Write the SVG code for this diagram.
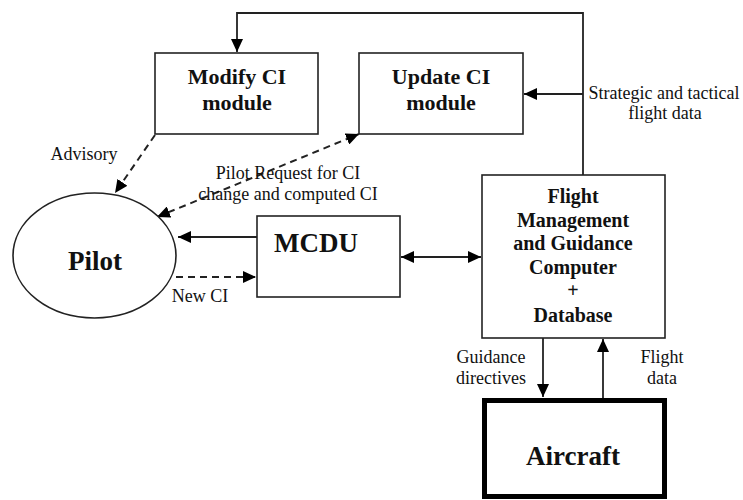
<svg xmlns="http://www.w3.org/2000/svg" width="743" height="500" viewBox="0 0 743 500">
<style>
.box{fill:#fff;stroke:#222;stroke-width:1.6}
.thick{fill:#fff;stroke:#000;stroke-width:5}
.t{font-family:"Liberation Serif","Times New Roman",serif;font-weight:bold;fill:#111;text-anchor:middle}
.l{font-family:"Liberation Serif","Times New Roman",serif;font-size:18px;fill:#111;text-anchor:middle}
.ln{fill:none;stroke:#222;stroke-width:1.8}
.d{fill:none;stroke:#222;stroke-width:2;stroke-dasharray:7,5}
</style>
<defs>
<marker id="a" markerUnits="userSpaceOnUse" markerWidth="14" markerHeight="12" refX="13" refY="6" orient="auto-start-reverse" viewBox="0 0 14 12">
<path d="M0,0 L13,6 L0,12 z" fill="#000"/>
</marker>
</defs>
<g id="connectors">
<path class="ln" d="M583,175 V13 H237 V52" marker-end="url(#a)"/>
<path class="ln" d="M583,94 H524" marker-end="url(#a)"/>
<path class="ln" d="M257,237 H178" marker-end="url(#a)"/>
<path class="d" d="M176,277 H256" marker-end="url(#a)"/>
<path class="ln" d="M401,257 H481" marker-start="url(#a)" marker-end="url(#a)"/>
<path class="d" d="M155,135 L115,193" marker-end="url(#a)"/>
<path class="d" d="M157,217 L359,134" marker-start="url(#a)" marker-end="url(#a)"/>
<path class="ln" d="M543,338 V397" marker-end="url(#a)"/>
<path class="ln" d="M603,398 V339" marker-end="url(#a)"/>
<text class="l" x="84" y="160">Advisory</text>
<text class="l" x="288" y="179">Pilot Request for CI</text>
<text class="l" x="288" y="200">change and computed CI</text>
<text class="l" x="200" y="302">New CI</text>
<text class="l" x="664" y="99">Strategic and tactical</text>
<text class="l" x="665" y="119">flight data</text>
<text class="l" x="491" y="363">Guidance</text>
<text class="l" x="491" y="384">directives</text>
<text class="l" x="662" y="363">Flight</text>
<text class="l" x="662" y="384">data</text>
</g>
<g id="modify">
<rect class="box" x="155" y="53" width="163" height="81"/>
<text class="t" x="237" y="84" font-size="22">Modify CI</text>
<text class="t" x="237" y="110" font-size="22">module</text>
</g>
<g id="update">
<rect class="box" x="359" y="53" width="164" height="81"/>
<text class="t" x="441" y="84" font-size="22">Update CI</text>
<text class="t" x="441" y="110" font-size="22">module</text>
</g>
<g id="pilot">
<ellipse class="box" cx="94.5" cy="255.5" rx="81.5" ry="62.5"/>
<text class="t" x="95" y="270" font-size="27">Pilot</text>
</g>
<g id="mcdu">
<rect class="box" x="257" y="216" width="143" height="81"/>
<text class="t" x="316" y="252" font-size="27">MCDU</text>
</g>
<g id="fmgc">
<rect class="box" x="482" y="175" width="183" height="163"/>
<text class="t" x="573" y="203" font-size="20">Flight</text>
<text class="t" x="573" y="227" font-size="20">Management</text>
<text class="t" x="573" y="250" font-size="20">and Guidance</text>
<text class="t" x="573" y="274" font-size="20">Computer</text>
<text class="t" x="573" y="297" font-size="20" font-weight="normal">+</text>
<text class="t" x="573" y="322" font-size="20">Database</text>
</g>
<g id="aircraft">
<rect class="thick" x="484.5" y="400.5" width="180" height="96"/>
<text class="t" x="573" y="465" font-size="27">Aircraft</text>
</g>
</svg>
